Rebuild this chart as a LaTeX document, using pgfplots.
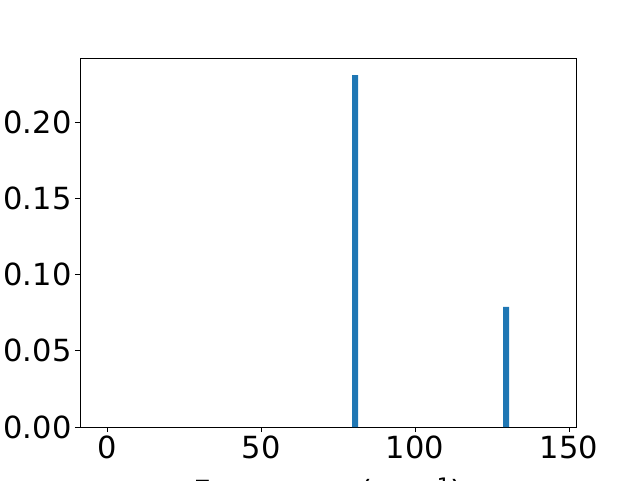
\documentclass[border=0pt]{standalone}
\usepackage{pgfplots}
\pgfplotsset{compat=1.18}
\usepackage{fontspec}
\setmainfont{DejaVu Sans}
\definecolor{mplblue}{HTML}{1F77B4}
\begin{document}
\begin{tikzpicture}[x=1pt,y=1pt]
\useasboundingbox (0,0) rectangle (640,480);
\begin{axis}[
  at={(80pt,53pt)}, anchor=south west,
  width=496pt, height=369pt, scale only axis,
  xmin=-8.9, xmax=152.3, ymin=0, ymax=0.242,
  xtick={0,50,100,150},
  ytick={0,0.05,0.10,0.15,0.20},
  yticklabel style={/pgf/number format/fixed,/pgf/number format/fixed zerofill,/pgf/number format/precision=2},
  scaled y ticks=false,
  /pgf/number format/assume math mode=true,
  tick align=outside, tick pos=left,
  major tick length=5pt,
  tick style={black, line width=0.8pt},
  axis line style={line width=0.8pt},
  ticklabel style={font=\fontsize{30.5}{36}\selectfont},
  xlabel={Frequency (cm\textsuperscript{−1})},
  xlabel style={font=\fontsize{30.5}{36}\selectfont, yshift=-12pt},
]
\addplot[ybar, bar width=1.9, fill=mplblue, draw=none] coordinates {(80.5,0.2308) (129.6,0.0787)};
\end{axis}
\end{tikzpicture}
\end{document}
